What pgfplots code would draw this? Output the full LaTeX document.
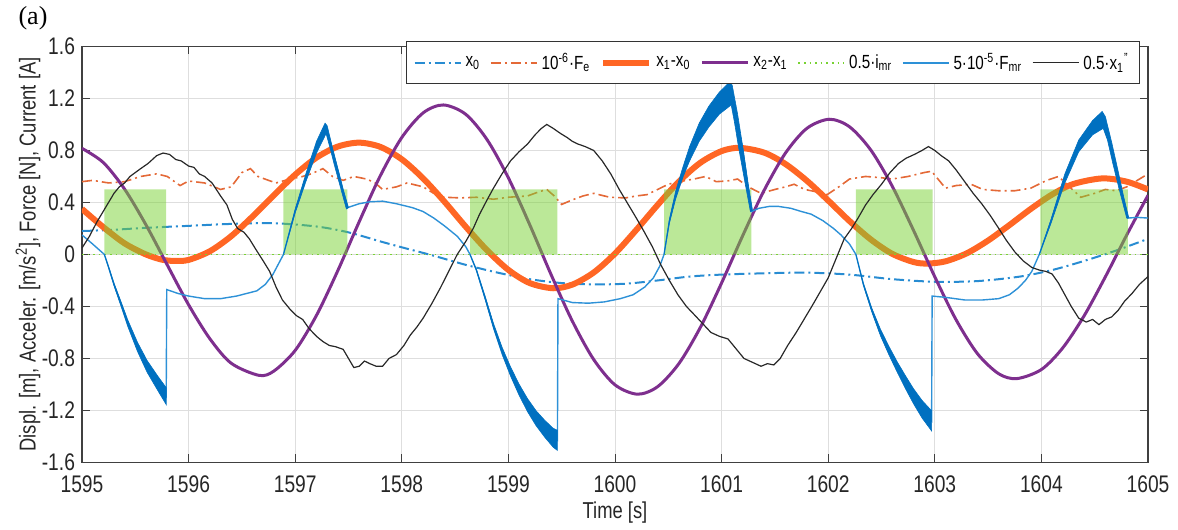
\documentclass[border=0pt]{standalone}
\usepackage{fontspec}
\setmainfont{Liberation Sans}[FakeStretch=0.8]
\newfontfamily\serifa{Liberation Serif}
\usepackage{pgfplots}
\pgfplotsset{compat=1.18}
\definecolor{x0c}{RGB}{40,140,210}
\definecolor{fec}{RGB}{228,105,55}
\definecolor{x10c}{RGB}{255,102,36}
\definecolor{x21c}{RGB}{126,47,142}
\definecolor{imrc}{RGB}{120,210,50}
\definecolor{fmrc}{RGB}{45,145,215}
\definecolor{bandc}{RGB}{0,112,192}
\definecolor{accc}{RGB}{40,40,40}
\begin{document}
\begin{tikzpicture}
\begin{axis}[
  name=ax,
  scale only axis,
  width=533pt, height=208pt,
  xmin=1595, xmax=1605, ymin=-1.6, ymax=1.6,
  xtick={1595,1596,1597,1598,1599,1600,1601,1602,1603,1604,1605},
  xticklabels={1595,1596,1597,1598,1599,1600,1601,1602,1603,1604,1605},
  ytick={-1.6,-1.2,-0.8,-0.4,0,0.4,0.8,1.2,1.6},
  yticklabels={-1.6,-1.2,-0.8,-0.4,0,0.4,0.8,1.2,1.6},
  tick align=inside,
  major tick length=4pt,
  grid=major,
  major grid style={draw=black!13, line width=0.5pt},
  axis line style={draw=black!75, line width=0.6pt},
  tick style={draw=black!75, line width=0.5pt},
  ticklabel style={font=\fontsize{12}{14}\selectfont, text=black!85},
  xticklabel style={yshift=-3pt},
  xlabel={Time [s]},
  ylabel={Displ. [m], Acceler. [m/s\textsuperscript{2}], Force [N], Current [A]},
  label style={font=\fontsize{11.5}{13}\selectfont, text=black!85},
  xlabel style={at={(axis description cs:0.5,-0.12)}, anchor=center},
  ylabel style={at={(axis description cs:-0.0507,0.5)}, anchor=center},
  legend style={at={(0.9925,1.012)}, anchor=north east, legend columns=7,
    draw=black!80, fill=white, font=\fontsize{9.5}{11}\selectfont,
    /tikz/every even column/.append style={column sep=3pt}, inner sep=3.5pt},
  legend cell align=left,
  legend image code/.code={\draw[#1] (0pt,0pt) -- (23pt,0pt);},
]
% x0
\addplot[x0c, line width=1pt, dash pattern=on 5pt off 2pt on 1pt off 2pt, smooth] coordinates {
(1595.0,0.18)(1595.3,0.19)(1595.6,0.205)(1596.0,0.22)(1596.4,0.235)(1596.8,0.24)(1597.2,0.215)(1597.5,0.17)(1597.8,0.1)(1598.0,0.055)(1598.3,-0.01)(1598.6,-0.08)(1598.9,-0.14)(1599.2,-0.19)(1599.5,-0.22)(1599.8,-0.23)(1600.1,-0.225)(1600.4,-0.2)(1600.7,-0.17)(1601.0,-0.155)(1601.4,-0.145)(1601.8,-0.14)(1602.2,-0.155)(1602.6,-0.19)(1603.0,-0.21)(1603.4,-0.205)(1603.8,-0.17)(1604.1,-0.12)(1604.4,-0.05)(1604.7,0.03)(1605.0,0.12)};
\addlegendentry{x\textsubscript{0}}
% Fe
\addplot[fec, line width=0.8pt, dash pattern=on 5pt off 2pt on 1pt off 2pt] coordinates {
(1595.0,0.56)(1595.1,0.57)(1595.25,0.55)(1595.4,0.56)(1595.55,0.6)(1595.7,0.62)(1595.8,0.6)(1595.92,0.53)(1596.0,0.565)(1596.15,0.55)(1596.3,0.5)(1596.4,0.52)(1596.5,0.63)(1596.58,0.66)(1596.65,0.6)(1596.75,0.57)(1596.82,0.55)(1596.95,0.58)(1597.07,0.6)(1597.15,0.62)(1597.26,0.66)(1597.35,0.6)(1597.45,0.57)(1597.55,0.6)(1597.67,0.58)(1597.75,0.55)(1597.82,0.5)(1597.95,0.52)(1598.05,0.55)(1598.2,0.52)(1598.3,0.47)(1598.4,0.44)(1598.55,0.435)(1598.7,0.44)(1598.86,0.425)(1599.0,0.44)(1599.18,0.45)(1599.28,0.48)(1599.36,0.5)(1599.43,0.45)(1599.5,0.385)(1599.6,0.42)(1599.7,0.45)(1599.8,0.47)(1599.95,0.44)(1600.1,0.435)(1600.2,0.45)(1600.3,0.46)(1600.4,0.5)(1600.5,0.54)(1600.6,0.56)(1600.74,0.58)(1600.85,0.6)(1600.95,0.56)(1601.05,0.565)(1601.15,0.58)(1601.25,0.52)(1601.37,0.47)(1601.5,0.5)(1601.6,0.52)(1601.68,0.54)(1601.78,0.5)(1601.9,0.48)(1601.99,0.46)(1602.1,0.52)(1602.2,0.58)(1602.35,0.6)(1602.5,0.59)(1602.6,0.58)(1602.75,0.6)(1602.9,0.63)(1602.97,0.64)(1603.05,0.56)(1603.1,0.51)(1603.2,0.53)(1603.34,0.54)(1603.45,0.5)(1603.6,0.49)(1603.75,0.49)(1603.9,0.51)(1604.05,0.57)(1604.16,0.6)(1604.25,0.53)(1604.37,0.44)(1604.5,0.47)(1604.6,0.5)(1604.7,0.49)(1604.8,0.52)(1604.9,0.57)(1605.0,0.62)};
\addlegendentry{10\textsuperscript{-6}·F\textsubscript{e}}
% x1-x0
\addplot[x10c, line width=3pt, smooth] coordinates {
(1595.0,0.35)(1595.2,0.21)(1595.4,0.085)(1595.6,0.0)(1595.75,-0.04)(1595.87,-0.05)(1596.0,-0.042)(1596.2,0.025)(1596.4,0.141)(1596.6,0.292)(1596.8,0.456)(1597.0,0.614)(1597.2,0.745)(1597.4,0.830)(1597.6,0.86)(1597.8,0.827)(1598.0,0.732)(1598.2,0.585)(1598.4,0.406)(1598.6,0.213)(1598.8,0.032)(1599.0,-0.119)(1599.2,-0.220)(1599.42,-0.26)(1599.6,-0.232)(1599.8,-0.139)(1600.0,0.007)(1600.2,0.189)(1600.4,0.381)(1600.6,0.561)(1600.8,0.705)(1601.0,0.795)(1601.17,0.82)(1601.4,0.783)(1601.6,0.695)(1601.8,0.567)(1602.0,0.415)(1602.2,0.257)(1602.4,0.115)(1602.6,0.005)(1602.8,-0.058)(1602.93,-0.07)(1603.1,-0.053)(1603.3,0.009)(1603.5,0.107)(1603.7,0.226)(1603.9,0.350)(1604.1,0.461)(1604.3,0.542)(1604.57,0.585)(1604.8,0.56)(1605.0,0.50)};
\addlegendentry{x\textsubscript{1}-x\textsubscript{0}}
% x2-x1
\addplot[x21c, line width=1.5pt, smooth] coordinates {
(1595.0,0.816)(1595.2,0.707)(1595.4,0.502)(1595.6,0.228)(1595.8,-0.081)(1596.0,-0.387)(1596.2,-0.649)(1596.4,-0.837)(1596.66,-0.93)(1596.8,-0.897)(1597.0,-0.738)(1597.2,-0.468)(1597.4,-0.124)(1597.6,0.251)(1597.8,0.608)(1598.0,0.900)(1598.2,1.089)(1598.39,1.15)(1598.6,1.078)(1598.8,0.883)(1599.0,0.589)(1599.2,0.229)(1599.4,-0.154)(1599.6,-0.513)(1599.8,-0.808)(1600.0,-1.003)(1600.21,-1.075)(1600.4,-1.017)(1600.6,-0.839)(1600.8,-0.562)(1601.0,-0.219)(1601.2,0.148)(1601.4,0.495)(1601.6,0.781)(1601.8,0.970)(1602.01,1.04)(1602.2,0.982)(1602.4,0.803)(1602.6,0.526)(1602.8,0.186)(1603.0,-0.172)(1603.2,-0.503)(1603.4,-0.763)(1603.6,-0.918)(1603.77,-0.955)(1604.0,-0.885)(1604.2,-0.719)(1604.4,-0.473)(1604.6,-0.172)(1604.8,0.149)(1605.0,0.455)};
\addlegendentry{x\textsubscript{2}-x\textsubscript{1}}
% imr blocks
\addplot[draw=none, fill=imrc, fill opacity=0.5, forget plot] coordinates {
(1595.21,0)(1595.21,0.5)(1595.79,0.5)(1595.79,0)(1596.89,0)(1596.89,0.5)(1597.49,0.5)(1597.49,0)(1598.64,0)(1598.64,0.5)(1599.46,0.5)(1599.46,0)(1600.46,0)(1600.46,0.5)(1601.28,0.5)(1601.28,0)(1602.26,0)(1602.26,0.5)(1602.98,0.5)(1602.98,0)(1603.99,0)(1603.99,0.5)(1604.81,0.5)(1604.81,0)} -- cycle;
\addplot[imrc, line width=0.8pt, dotted] coordinates {(1595,0)(1605,0)};
\addlegendentry{0.5·i\textsubscript{mr}}
% Fmr thin line
\addplot[fmrc, line width=0.7pt] coordinates {
(1595.0,0.15)(1595.1,0.08)(1595.21,0.0)(1595.25,-0.1)(1595.3,-0.23)(1595.37,-0.39)(1595.43,-0.53)(1595.52,-0.71)(1595.61,-0.86)(1595.71,-0.99)(1595.79,-1.09)(1595.795,-0.27)(1595.9,-0.3)(1596.0,-0.32)(1596.15,-0.34)(1596.3,-0.34)(1596.45,-0.32)(1596.64,-0.28)(1596.72,-0.23)(1596.79,-0.155)(1596.89,0.0)(1597.0,0.335)(1597.1,0.59)(1597.2,0.825)(1597.28,0.965)(1597.33,0.86)(1597.4,0.65)(1597.49,0.36)(1597.6,0.39)(1597.7,0.405)(1597.82,0.41)(1597.95,0.39)(1598.1,0.36)(1598.2,0.33)(1598.3,0.28)(1598.4,0.22)(1598.52,0.14)(1598.6,0.06)(1598.64,0.0)(1598.7,-0.12)(1598.78,-0.33)(1598.86,-0.55)(1598.94,-0.74)(1599.02,-0.9)(1599.1,-1.04)(1599.18,-1.16)(1599.26,-1.26)(1599.34,-1.34)(1599.42,-1.41)(1599.46,-1.43)(1599.465,-0.34)(1599.6,-0.37)(1599.75,-0.375)(1599.9,-0.365)(1600.05,-0.34)(1600.17,-0.31)(1600.28,-0.25)(1600.36,-0.18)(1600.42,-0.09)(1600.46,0.0)(1600.51,0.255)(1600.57,0.46)(1600.64,0.64)(1600.7,0.775)(1600.79,0.94)(1600.88,1.06)(1600.98,1.165)(1601.08,1.25)(1601.15,1.0)(1601.2,0.8)(1601.28,0.33)(1601.35,0.355)(1601.45,0.37)(1601.53,0.37)(1601.65,0.355)(1601.75,0.33)(1601.84,0.31)(1601.95,0.26)(1602.05,0.2)(1602.12,0.15)(1602.2,0.08)(1602.26,0.0)(1602.33,-0.23)(1602.41,-0.43)(1602.49,-0.6)(1602.57,-0.74)(1602.65,-0.87)(1602.73,-0.99)(1602.8,-1.09)(1602.88,-1.19)(1602.97,-1.28)(1602.975,-0.32)(1603.1,-0.33)(1603.28,-0.35)(1603.45,-0.35)(1603.6,-0.34)(1603.7,-0.31)(1603.78,-0.26)(1603.85,-0.2)(1603.91,-0.13)(1603.98,0.0)(1604.09,0.255)(1604.22,0.585)(1604.35,0.835)(1604.48,0.975)(1604.57,1.03)(1604.65,0.85)(1604.72,0.6)(1604.81,0.28)(1604.9,0.285)(1605.0,0.28)};
\addlegendentry{5·10\textsuperscript{-5}·F\textsubscript{mr}}
% Fmr bands (fast oscillation envelope)
\addplot[fill=bandc, draw=bandc, line width=0.3pt, forget plot] coordinates {
(1595.21,0)(1595.25,-0.095)(1595.3,-0.22)(1595.37,-0.372)(1595.43,-0.505)(1595.52,-0.675)(1595.61,-0.815)(1595.71,-0.935)(1595.79,-1.025)(1595.79,-1.155)(1595.71,-1.045)(1595.61,-0.905)(1595.52,-0.745)(1595.43,-0.555)(1595.37,-0.408)(1595.3,-0.24)(1595.25,-0.105)} -- cycle;
\addplot[fill=bandc, draw=bandc, line width=0.3pt, forget plot] coordinates {
(1596.89,0)(1597.0,0.35)(1597.1,0.62)(1597.2,0.87)(1597.28,1.01)(1597.3,0.99)(1597.35,0.82)(1597.4,0.66)(1597.45,0.5)(1597.5,0.36)(1597.48,0.35)(1597.43,0.5)(1597.37,0.68)(1597.32,0.84)(1597.29,0.93)(1597.2,0.78)(1597.1,0.56)(1597.0,0.32)} -- cycle;
\addplot[fill=bandc, draw=bandc, line width=0.3pt, forget plot] coordinates {
(1598.64,0)(1598.7,-0.115)(1598.78,-0.3175)(1598.86,-0.53)(1598.94,-0.7125)(1599.02,-0.865)(1599.1,-0.9975)(1599.18,-1.11)(1599.26,-1.2025)(1599.34,-1.275)(1599.42,-1.3375)(1599.46,-1.3525)(1599.46,-1.5075)(1599.42,-1.4825)(1599.34,-1.405)(1599.26,-1.3175)(1599.18,-1.21)(1599.1,-1.0825)(1599.02,-0.935)(1598.94,-0.7675)(1598.86,-0.57)(1598.78,-0.3425)(1598.7,-0.125)} -- cycle;
\addplot[fill=bandc, draw=bandc, line width=0.3pt, forget plot] coordinates {
(1600.46,0)(1600.51,0.27)(1600.57,0.49)(1600.64,0.68)(1600.7,0.83)(1600.79,1.01)(1600.88,1.14)(1600.98,1.25)(1601.08,1.33)(1601.1,1.3)(1601.15,1.08)(1601.2,0.82)(1601.25,0.54)(1601.29,0.34)(1601.27,0.33)(1601.22,0.55)(1601.16,0.82)(1601.12,1.02)(1601.09,1.15)(1600.98,1.08)(1600.88,0.98)(1600.79,0.87)(1600.7,0.72)(1600.64,0.6)(1600.57,0.43)(1600.51,0.24)} -- cycle;
\addplot[fill=bandc, draw=bandc, line width=0.3pt, forget plot] coordinates {
(1602.26,0)(1602.33,-0.2225)(1602.41,-0.415)(1602.49,-0.575)(1602.57,-0.7075)(1602.65,-0.83)(1602.73,-0.94)(1602.8,-1.0325)(1602.88,-1.1225)(1602.97,-1.2025)(1602.97,-1.3575)(1602.88,-1.2575)(1602.8,-1.1475)(1602.73,-1.04)(1602.65,-0.91)(1602.57,-0.7725)(1602.49,-0.625)(1602.41,-0.445)(1602.33,-0.2375)} -- cycle;
\addplot[fill=bandc, draw=bandc, line width=0.3pt, forget plot] coordinates {
(1603.98,0)(1604.09,0.27)(1604.22,0.62)(1604.35,0.88)(1604.48,1.03)(1604.57,1.1)(1604.6,1.06)(1604.66,0.86)(1604.72,0.64)(1604.77,0.45)(1604.82,0.28)(1604.8,0.28)(1604.73,0.5)(1604.67,0.7)(1604.62,0.88)(1604.58,0.97)(1604.48,0.92)(1604.35,0.79)(1604.22,0.55)(1604.09,0.24)} -- cycle;
% 0.5 x1''
\addplot[accc, line width=0.6pt] coordinates {
(1595.0,0.05)(1595.07,0.14)(1595.14,0.25)(1595.22,0.36)(1595.3,0.47)(1595.35,0.52)(1595.4,0.55)(1595.45,0.6)(1595.5,0.63)(1595.55,0.66)(1595.62,0.7)(1595.7,0.76)(1595.76,0.78)(1595.82,0.77)(1595.88,0.73)(1595.93,0.72)(1596.0,0.68)(1596.05,0.67)(1596.1,0.62)(1596.15,0.6)(1596.22,0.55)(1596.3,0.45)(1596.36,0.38)(1596.41,0.27)(1596.46,0.2)(1596.52,0.17)(1596.57,0.12)(1596.63,0.04)(1596.7,-0.05)(1596.76,-0.13)(1596.82,-0.25)(1596.88,-0.35)(1596.95,-0.42)(1597.01,-0.47)(1597.07,-0.5)(1597.13,-0.57)(1597.2,-0.63)(1597.26,-0.67)(1597.32,-0.7)(1597.38,-0.71)(1597.45,-0.73)(1597.5,-0.8)(1597.55,-0.87)(1597.6,-0.86)(1597.65,-0.82)(1597.7,-0.84)(1597.76,-0.86)(1597.82,-0.86)(1597.88,-0.8)(1597.95,-0.77)(1598.02,-0.7)(1598.08,-0.62)(1598.14,-0.56)(1598.2,-0.49)(1598.28,-0.38)(1598.36,-0.26)(1598.44,-0.13)(1598.52,0.0)(1598.6,0.1)(1598.67,0.2)(1598.73,0.31)(1598.8,0.42)(1598.86,0.51)(1598.94,0.62)(1599.02,0.72)(1599.1,0.79)(1599.18,0.85)(1599.25,0.92)(1599.31,0.97)(1599.36,1.0)(1599.42,0.97)(1599.49,0.93)(1599.55,0.9)(1599.6,0.87)(1599.65,0.85)(1599.72,0.83)(1599.8,0.8)(1599.88,0.72)(1599.96,0.62)(1600.04,0.5)(1600.12,0.39)(1600.2,0.28)(1600.27,0.18)(1600.35,0.06)(1600.43,-0.08)(1600.51,-0.2)(1600.59,-0.31)(1600.67,-0.4)(1600.74,-0.46)(1600.82,-0.53)(1600.9,-0.6)(1600.98,-0.63)(1601.06,-0.65)(1601.13,-0.72)(1601.21,-0.8)(1601.29,-0.83)(1601.37,-0.86)(1601.43,-0.84)(1601.49,-0.85)(1601.55,-0.8)(1601.62,-0.7)(1601.7,-0.6)(1601.78,-0.49)(1601.86,-0.38)(1601.93,-0.28)(1602.0,-0.18)(1602.08,-0.02)(1602.15,0.12)(1602.22,0.2)(1602.28,0.28)(1602.35,0.38)(1602.42,0.46)(1602.5,0.54)(1602.58,0.63)(1602.66,0.7)(1602.73,0.74)(1602.81,0.77)(1602.88,0.8)(1602.94,0.83)(1603.0,0.8)(1603.06,0.76)(1603.13,0.72)(1603.2,0.65)(1603.28,0.56)(1603.36,0.47)(1603.44,0.39)(1603.52,0.3)(1603.6,0.2)(1603.67,0.11)(1603.75,0.02)(1603.83,-0.05)(1603.91,-0.1)(1603.98,-0.12)(1604.04,-0.13)(1604.1,-0.15)(1604.16,-0.22)(1604.22,-0.31)(1604.28,-0.4)(1604.35,-0.49)(1604.42,-0.52)(1604.48,-0.5)(1604.54,-0.54)(1604.6,-0.5)(1604.66,-0.48)(1604.72,-0.43)(1604.78,-0.36)(1604.85,-0.3)(1604.92,-0.23)(1605.0,-0.17)};
\addlegendentry{0.5·x\textsubscript{1}\textsuperscript{"}}
\end{axis}
\node[font=\serifa\fontsize{13}{15}\selectfont, xshift=-24.5pt, yshift=14pt] at (ax.north west) {(a)};
\path ([xshift=-41pt,yshift=-33pt]ax.south west) rectangle ([xshift=15pt,yshift=22.5pt]ax.north east);
\end{tikzpicture}
\end{document}
